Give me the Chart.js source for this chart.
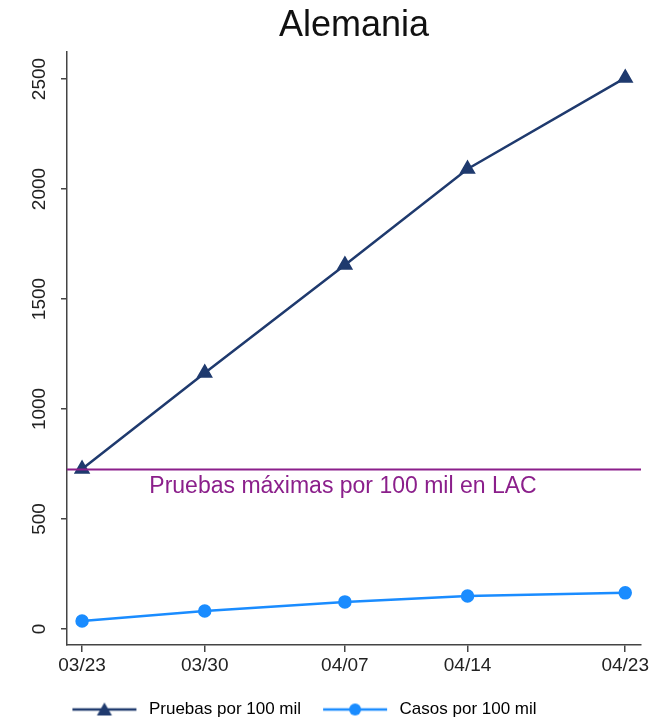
<!doctype html>
<html>
<head>
    <title>Alemania</title>
    <script src="https://cdn.jsdelivr.net/npm/chart.js@4/dist/chart.umd.min.js"></script>
    <style>
        html, body { margin: 0; padding: 0; background: #fff; }
        #wrap { width: 664px; height: 721px; }
    </style>
</head>
<body>
<div id="wrap"><canvas id="myChart" width="664" height="721"></canvas></div>
<script>
// data
var dates = ['03/23', '03/30', '04/07', '04/14', '04/23'];
var pruebas = [727, 1164, 1655, 2091, 2505];
var casos = [36, 82, 123, 150, 164];
var yTicks = [0, 500, 1000, 1500, 2000, 2500];
var lacMax = 725;
var lacLabel = 'Pruebas máximas por 100 mil en LAC';

var navy = '#1f3a6e';
var blue = '#1a8cff';
var purple = '#8b1f8b';
var axisColor = '#444';
var font = 'Arial, "Liberation Sans", Helvetica, sans-serif';

// days since first date, so spacing follows the calendar
function dayOf(s) {
    var p = s.split('/');
    return (Date.UTC(2020, +p[0] - 1, +p[1]) - Date.UTC(2020, 2, 23)) / 86400000;
}
var days = dates.map(dayOf);

// legend key: line with the marker in the middle; blank room left/right sets the gaps
var keyL = 16, keyW = 64, keyR = 4;
function legendIcon(color, style) {
    var c = document.createElement('canvas');
    c.width = keyL + keyW + keyR; c.height = 16;
    var g = c.getContext('2d');
    var mid = keyL + keyW / 2;
    g.strokeStyle = color; g.fillStyle = color; g.lineWidth = 2.5;
    g.beginPath(); g.moveTo(keyL, 8); g.lineTo(keyL + keyW, 8); g.stroke();
    g.beginPath();
    if (style === 'triangle') {
        g.moveTo(mid, 1); g.lineTo(mid + 7.5, 14); g.lineTo(mid - 7.5, 14); g.closePath();
    } else {
        g.arc(mid, 8, 6, 0, Math.PI * 2);
    }
    g.fill();
    return c;
}

var extras = {
    id: 'extras',
    afterLayout: function(chart) {
        // the legend sits left of centre in the original
        var lg = chart.legend;
        if (lg) { lg.left -= 24; lg.right -= 24; }
    },
    afterDatasetsDraw: function(chart) {
        var ctx = chart.ctx, a = chart.chartArea;
        var y = chart.scales.y;
        var py = y.getPixelForValue(lacMax);
        ctx.save();
        ctx.strokeStyle = purple; ctx.lineWidth = 2;
        ctx.beginPath(); ctx.moveTo(a.left, py); ctx.lineTo(a.right, py); ctx.stroke();
        ctx.fillStyle = purple;
        ctx.font = '23px ' + font;
        ctx.textAlign = 'center'; ctx.textBaseline = 'middle';
        ctx.fillText(lacLabel, (a.left + a.right) / 2 - 11, py + 17);
        ctx.restore();
    },
    afterDraw: function(chart) {
        // rotated y tick labels
        var ctx = chart.ctx, y = chart.scales.y;
        ctx.save();
        ctx.fillStyle = '#222';
        ctx.font = '19px ' + font;
        ctx.textAlign = 'center'; ctx.textBaseline = 'middle';
        yTicks.forEach(function(v) {
            ctx.save();
            ctx.translate(40, y.getPixelForValue(v));
            ctx.rotate(-Math.PI / 2);
            ctx.fillText(String(v), 0, 0);
            ctx.restore();
        });
        ctx.restore();
    }
};

var ctx = document.getElementById('myChart').getContext('2d');
new Chart(ctx, {
    type: 'line',
    data: {
        datasets: [
            {
                label: 'Pruebas por 100 mil',
                data: days.map(function(d, i) { return { x: d, y: pruebas[i] }; }),
                borderColor: navy, backgroundColor: navy,
                borderWidth: 2.5,
                pointStyle: 'triangle', pointRadius: 7, pointHoverRadius: 7,
                legendIcon: legendIcon(navy, 'triangle')
            },
            {
                label: 'Casos por 100 mil',
                data: days.map(function(d, i) { return { x: d, y: casos[i] }; }),
                borderColor: blue, backgroundColor: blue,
                borderWidth: 2.5,
                pointStyle: 'circle', pointRadius: 5.5, pointHoverRadius: 5.5,
                legendIcon: legendIcon(blue, 'circle')
            }
        ]
    },
    options: {
        responsive: false,
        animation: false,
        layout: { padding: { left: 0, right: 23, top: 0, bottom: -7 } },
        plugins: {
            title: {
                display: true, text: 'Alemania', color: '#111', fullSize: false,
                font: { family: font, size: 36, weight: 'normal' },
                padding: { top: 4, bottom: 5 }
            },
            legend: {
                position: 'bottom',
                labels: {
                    color: '#222',
                    font: { family: font, size: 17 },
                    usePointStyle: true,
                    pointStyleWidth: keyL + keyW + keyR,
                    padding: 6,
                    generateLabels: function(chart) {
                        return chart.data.datasets.map(function(ds, i) {
                            return {
                                text: ds.label, pointStyle: ds.legendIcon,
                                fillStyle: ds.borderColor, strokeStyle: ds.borderColor,
                                lineWidth: 0, datasetIndex: i, hidden: false
                            };
                        });
                    }
                }
            },
            tooltip: { enabled: false }
        },
        scales: {
            x: {
                type: 'linear', min: -0.86, max: 31.9,
                afterBuildTicks: function(s) { s.ticks = days.map(function(d) { return { value: d }; }); },
                afterFit: function(s) { s.height = 50; },
                ticks: {
                    callback: function(v) { var i = days.indexOf(v); return i >= 0 ? dates[i] : ''; },
                    color: '#222', font: { family: font, size: 19 },
                    maxRotation: 0, autoSkip: false, padding: 2
                },
                grid: { drawOnChartArea: false, tickLength: 7, color: axisColor, lineWidth: 1.5 },
                border: { display: true, color: axisColor, width: 1.5 }
            },
            y: {
                min: -73, max: 2622,
                afterBuildTicks: function(s) { s.ticks = yTicks.map(function(v) { return { value: v }; }); },
                afterFit: function(s) { s.width = 67; },
                ticks: { color: 'rgba(0,0,0,0)', font: { family: font, size: 17 } },
                grid: { drawOnChartArea: false, tickLength: 6, color: axisColor, lineWidth: 1.5 },
                border: { display: true, color: axisColor, width: 1.5 }
            }
        }
    },
    plugins: [extras]
});
</script>
</body>
</html>
